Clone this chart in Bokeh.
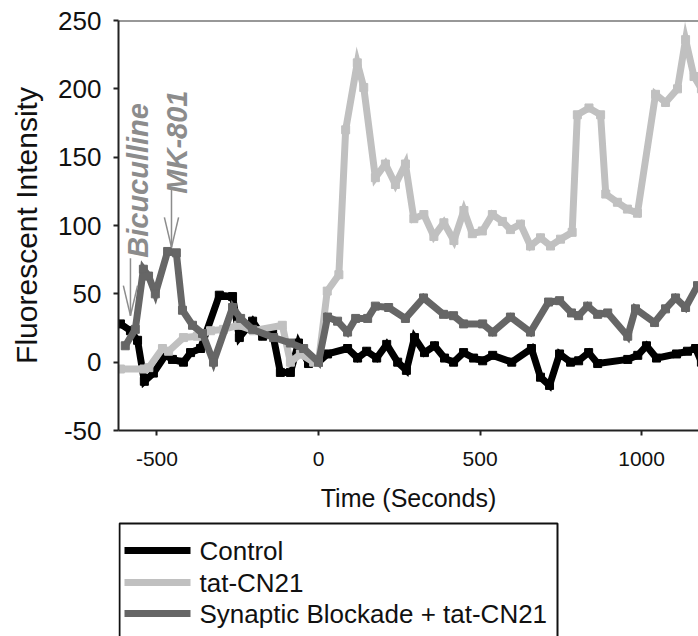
from bokeh.plotting import figure
from bokeh.layouts import column
from bokeh.models import Range1d, FixedTicker, Label, Arrow, Span
from bokeh.core.properties import value
from bokeh.embed import file_html
from bokeh.resources import INLINE
import math

FONT = "Liberation Sans"

# Time (s) and fluorescent intensity for each condition
control_t = [-613, -582, -560, -539, -511, -474, -452, -418, -396, -365,
             -307, -266, -245, -204, -173, -142, -118, -87, -62, -31,
             0, 28, 90, 121, 149, 180, 211, 245, 272, 297,
             328, 359, 390, 418, 449, 480, 508, 539, 598, 659,
             687, 715, 746, 780, 805, 836, 864, 957, 988, 1015,
             1046, 1108, 1142, 1167, 1185]
control_v = [28, 23, 16, -14, -8, 5, 2, 0, 7, 10,
             49, 48, 18, 30, 19, 21, -7.5, -7.5, 14, -1,
             0, 6, 10, 3, 8, 3, 13, 0, -6, 18,
             7, 12, 3, 0, 7, 3, 1, 5, 0, 10,
             -11, -17, 6, 0, 1, 7, -1, 2, 5, 12,
             3, 6, 8, 10, 0]

tat_t = [-613, -540, -525, -483, -464, -418, -375, -334, -294, -248,
         -201, -112, -87, -56, -15, 0,
         27, 63, 84, 120, 140, 176, 207, 238, 269, 295,
         326, 357, 388, 419, 450, 476, 507, 538, 569, 594,
         625, 656, 687, 718, 749, 785, 801, 837, 873, 889,
         925, 956, 987, 1043, 1074, 1111, 1136, 1162, 1185]
tat_v = [-5, -5, -4, 10, 8, 18, 19, 23, 24, 27,
         23, 27, 0, 6, 0, 0,
         52, 64, 170, 219, 201, 135, 145, 130, 145, 105,
         108, 92, 102, 89, 111, 94, 96, 108, 103, 97,
         101, 85, 91, 85, 90, 95, 181, 186, 181, 123,
         117, 112, 109, 196, 190, 200, 236, 209, 200]

block_t = [-598, -567, -542, -526, -505, -467, -440, -421, -390, -359,
           -325, -266, -241, -204, -139, -87, -46, 0,
           28, 59, 90, 115, 152, 176, 217, 269, 325, 387,
           418, 449, 508, 539, 594, 656, 712, 746, 783, 805,
           833, 864, 895, 957, 981, 1040, 1074, 1105, 1136, 1173]
block_v = [12, 24, 68, 63, 50, 81, 80, 38, 27, 21,
           0, 40, 32, 24, 18, 14, 10, 0,
           33, 30, 22, 32, 32, 41, 40, 32, 47, 35,
           34, 28, 28, 22, 33, 22, 44, 45, 36, 34,
           41, 35, 36, 19, 39, 29, 39, 47, 40, 56]

series_names = ["Control", "tat-CN21", "Synaptic Blockade + tat-CN21"]
series_colors = ["#000000", "#c0c0c0", "#666666"]

x_ticks = [-500, 0, 500, 1000]
y_ticks = [-50, 0, 50, 100, 150, 200, 250]

p = figure(width=698, height=520, output_backend="svg", toolbar_location=None,
           x_range=Range1d(-619, 1176), y_range=Range1d(-50, 250),
           min_border_left=118, min_border_right=0, min_border_top=20,
           min_border_bottom=90)
p.outline_line_color = None
p.xgrid.visible = False
p.ygrid.visible = False
p.background_fill_color = "white"
p.border_fill_color = "white"

# top edge of the plotting area
p.add_layout(Span(location=250, dimension="width", line_color="#333333", line_width=2))

for ax in (p.xaxis[0], p.yaxis[0]):
    ax.axis_line_color = "#222222"
    ax.axis_line_width = 2
    ax.major_tick_line_color = "#222222"
    ax.major_tick_line_width = 2
    ax.major_tick_in = 0
    ax.major_tick_out = 5
    ax.minor_tick_line_color = None
    ax.major_label_text_font = FONT
    ax.major_label_text_color = "#111111"
    ax.axis_label_text_font = FONT
    ax.axis_label_text_font_style = "normal"
    ax.axis_label_text_color = "#111111"

p.xaxis.ticker = FixedTicker(ticks=x_ticks)
p.yaxis.ticker = FixedTicker(ticks=y_ticks)
p.xaxis.major_label_overrides = {t: str(t) for t in x_ticks}
p.yaxis.major_label_overrides = {t: str(t) for t in y_ticks}
p.xaxis.major_label_text_font_size = "21px"
p.yaxis.major_label_text_font_size = "26px"
p.xaxis.major_label_standoff = 16
p.yaxis.major_label_standoff = 12
p.xaxis.axis_label = "Time (Seconds)"
p.yaxis.axis_label = "Fluorescent Intensity"
p.xaxis.axis_label_text_font_size = "25px"
p.yaxis.axis_label_text_font_size = "30px"
p.xaxis.axis_label_standoff = 15
p.yaxis.axis_label_standoff = 12

for t, v, color in zip([control_t, tat_t, block_t], [control_v, tat_v, block_v], series_colors):
    p.line(t, v, line_color=color, line_width=7, line_join="miter")
    p.scatter(t, v, marker="square", size=8, fill_color=color, line_color=color)

# drug application markers
note_color = "#8c8c8c"
p.add_layout(Label(x=-560, y=133, text="Bicuculline", angle=math.pi / 2,
                   text_align="center", text_baseline="middle",
                   text_font=FONT, text_font_size="29px",
                   text_font_style="bold italic", text_color=note_color))
p.add_layout(Label(x=-437, y=161, text="MK-801", angle=math.pi / 2,
                   text_align="center", text_baseline="middle",
                   text_font=FONT, text_font_size="29px",
                   text_font_style="bold italic", text_color=note_color))

arrow_x = [-582, -455]
arrow_top = [76, 126]
arrow_tip = [34, 84]
head_len = 22
head_half = 22
for ax_, top, tip in zip(arrow_x, arrow_top, arrow_tip):
    p.add_layout(Arrow(end=None, x_start=ax_, y_start=top, x_end=ax_, y_end=tip,
                       line_color=note_color, line_width=1.5))
    for side in (-1, 1):
        p.add_layout(Arrow(end=None, x_start=ax_ + side * head_half, y_start=tip + head_len,
                           x_end=ax_, y_end=tip, line_color=note_color, line_width=1.5))

# key strip under the chart; its frame lines up with the chart frame above,
# so its x units are page pixels from 118 to 698 (y grows downward)
key = figure(width=698, height=116, output_backend="svg", toolbar_location=None,
             x_range=Range1d(118, 698), y_range=Range1d(116, 0),
             x_axis_location=None, y_axis_location=None,
             min_border_left=0, min_border_right=0, min_border_top=0, min_border_bottom=0)
key.grid.visible = False
key.outline_line_color = None
key.background_fill_color = "white"
key.border_fill_color = "white"

key_left, key_right, key_top = 119, 557, 3
row_y = [30, 62, 93]
key.quad(left=key_left, right=key_right, top=key_top, bottom=key_top + 140,
         fill_color=None, line_color="#111111", line_width=2)
key.segment(x0=[124] * 3, x1=[190] * 3, y0=row_y, y1=row_y,
            line_color=series_colors, line_width=7)
key.text(x=[199] * 3, y=row_y, text=series_names, text_baseline="middle",
         text_align="left", text_font=value(FONT), text_font_size="26px",
         text_color="#111111")

layout = column(p, key, spacing=0)
open("out.html", "w").write(file_html(layout, INLINE))
